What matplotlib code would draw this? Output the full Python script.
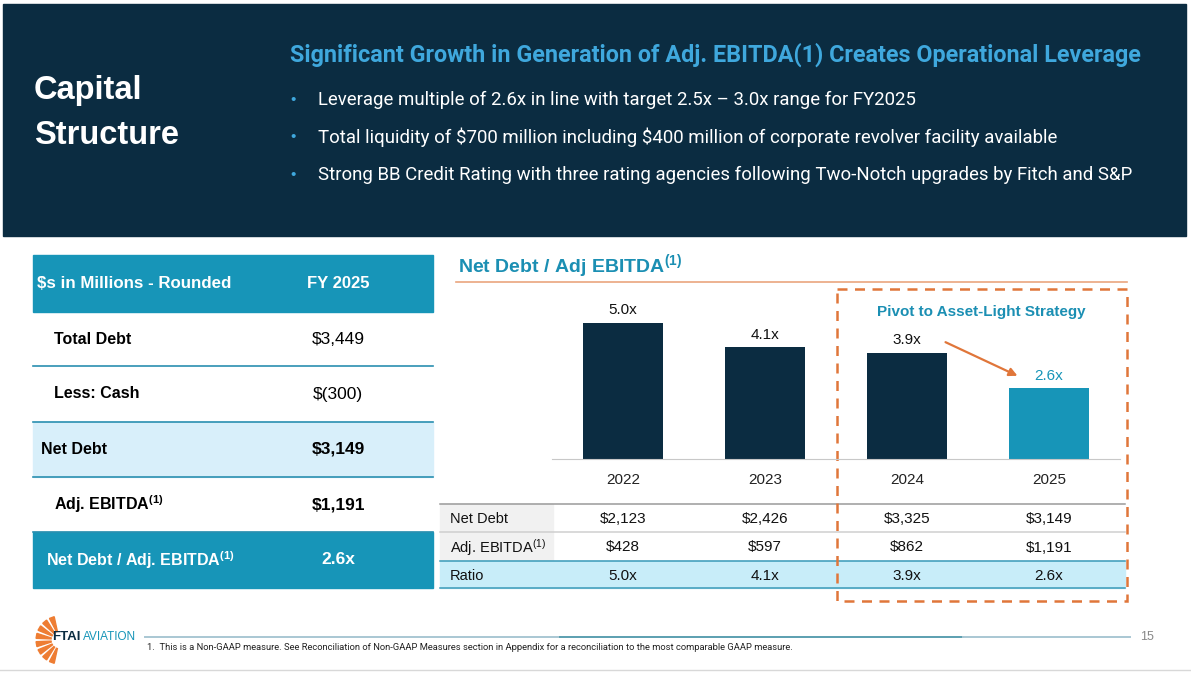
import numpy as np
import matplotlib.pyplot as plt
from matplotlib.patches import Rectangle, Polygon, FancyArrowPatch
from matplotlib import transforms

plt.rcParams['font.family'] = ['Liberation Sans', 'DejaVu Sans']
plt.rcParams['mathtext.default'] = 'regular'

# chart data
years = ['2022', '2023', '2024', '2025']
ratio = [5.0, 4.1, 3.9, 2.6]
net_debt = [2123, 2426, 3325, 3149]
adj_ebitda = [428, 597, 862, 1191]

# summary table
summary_labels = ['Total Debt', 'Less: Cash', 'Net Debt', 'Adj. EBITDA$^{(1)}$',
                  'Net Debt / Adj. EBITDA$^{(1)}$']
summary_values = ['$3,449', '$(300)', '$3,149', '$1,191', '2.6x']

bullets = [
    'Leverage multiple of 2.6x in line with target 2.5x \u2013 3.0x range for FY2025',
    'Total liquidity of $700 million including $400 million of corporate revolver facility available',
    'Strong BB Credit Rating with three rating agencies following Two-Notch upgrades by Fitch and S&P',
]

navy = '#0b2c41'
teal = '#1795b8'
teal_txt = '#1b8fb3'
sub_blue = '#3fa8dd'
orange = '#e0763a'
narrow = ['Roboto', 'DejaVu Sans']

W, H = 1191, 676
fig = plt.figure(figsize=(W / 100, H / 100), dpi=100, facecolor='white')

# overlay axes in pixel units
ax0 = fig.add_axes([0, 0, 1, 1])
ax0.set_xlim(0, W)
ax0.set_ylim(H, 0)
ax0.axis('off')

# header band
ax0.add_patch(Rectangle((3, 4), 1183, 232, color=navy, zorder=0))
ax0.text(34, 91, 'Capital', color='white', fontsize=23.5, fontweight='bold', va='center')
ax0.text(34, 135, 'Structure', color='white', fontsize=23.5, fontweight='bold', va='center')
ax0.text(290, 55, 'Significant Growth in Generation of Adj. EBITDA(1) Creates Operational Leverage',
         color=sub_blue, fontsize=16.8, fontweight='bold', va='center', family=narrow)
for i, b in enumerate(bullets):
    y = 100 + i * 37.5
    ax0.text(290, y, '\u2022', color=sub_blue, fontsize=11, va='center')
    ax0.text(318, y, b, color='white', fontsize=13.4, va='center', family=narrow, parse_math=False)

# left summary table
tx0, tx1 = 33, 433
ax0.add_patch(Rectangle((tx0, 255), tx1 - tx0, 57, color=teal, zorder=1))
ax0.text(37, 284, '$s in Millions - Rounded', color='white', fontsize=12.2, fontweight='bold', va='center')
ax0.text(338, 284, 'FY 2025', color='white', fontsize=12, fontweight='bold', va='center', ha='center')
row_tops = [312, 366, 422, 477, 532]
row_h = [54, 56, 55, 55, 56]
for i, (lab, val) in enumerate(zip(summary_labels, summary_values)):
    top = row_tops[i]
    yc = top + row_h[i] / 2
    color = 'black'
    weight = 'bold' if i >= 2 else 'normal'
    lx = 54
    if i == 2:
        ax0.add_patch(Rectangle((tx0, top), tx1 - tx0, row_h[i], color='#d8effa', zorder=1))
        lx = 41
    if i == 4:
        ax0.add_patch(Rectangle((tx0, top), tx1 - tx0, row_h[i], color=teal, zorder=1))
        color = 'white'
        lx = 46
    ax0.text(lx, yc, lab, color=color, fontsize=11.5, va='center', fontweight='bold', zorder=3)
    ax0.text(338, yc, val, color=color, fontsize=12.5, va='center', ha='center',
             fontweight=weight, zorder=3)
    if i < 4:
        ax0.plot([tx0, tx1], [top + row_h[i]] * 2, color='#2a8fb0', lw=1.2, zorder=2)

# chart title
ax0.text(458, 266, 'Net Debt / Adj EBITDA$^{(1)}$', color=teal_txt, fontsize=14,
         fontweight='bold', va='center')
ax0.plot([456, 1127], [281.5, 281.5], color='#eaa57e', lw=1.2)

# bar chart
axb = fig.add_axes([552 / W, 1 - 459 / H, (1120 - 552) / W, (459 - 290) / H])
x = np.arange(len(years))
colors = [navy, navy, navy, teal]
axb.bar(x, ratio, width=0.563, color=colors)
axb.set_xlim(-0.5, 3.5)
axb.set_ylim(0, 6.21)
for xi, v, c in zip(x, ratio, colors):
    axb.annotate(f'{v:.1f}x', (xi, v), xytext=(0, 4), textcoords='offset points',
                 ha='center', va='bottom', fontsize=11,
                 color=teal if c == teal else '#111111')
axb.set_xticks(x)
axb.set_xticklabels(years, fontsize=11, color='#222222')
axb.tick_params(axis='x', length=0, pad=10)
axb.set_yticks([])
for s in ['top', 'left', 'right']:
    axb.spines[s].set_visible(False)
axb.spines['bottom'].set_color('#c8c8c8')
axb.patch.set_alpha(0)

# pivot box and arrow
ax0.add_patch(Rectangle((837, 289), 290, 312, fill=False, edgecolor=orange, lw=1.8,
                        linestyle=(0, (4, 3)), zorder=5))
ax0.text(981, 312, 'Pivot to Asset-Light Strategy', color=teal_txt, fontsize=11,
         fontweight='bold', ha='center', va='center')
ax0.add_patch(FancyArrowPatch((943, 341), (1020, 377), arrowstyle='-|>', mutation_scale=12,
                              color=orange, lw=1.6, zorder=6))

# bottom data table
blend = transforms.blended_transform_factory(axb.transData, ax0.transData)
bx0, bx1 = 440, 1125
ax0.add_patch(Rectangle((bx0, 504), 553 - bx0, 56, color='#f1f1f1', zorder=1))
ax0.add_patch(Rectangle((bx0, 561), bx1 - bx0, 27, color='#c8edf9', zorder=1))
for yl, lc in [(504, '#9a9a9a'), (532, '#cfcfcf'), (560.5, '#3a9ab8'), (588, '#3a9ab8')]:
    ax0.plot([bx0, bx1], [yl, yl], color=lc, lw=1.1, zorder=2)
row_names = ['Net Debt', 'Adj. EBITDA$^{(1)}$', 'Ratio']
row_vals = [[f'${v:,}' for v in net_debt], [f'${v:,}' for v in adj_ebitda],
            [f'{v:.1f}x' for v in ratio]]
for j, (name, vals) in enumerate(zip(row_names, row_vals)):
    yc = 519 + j * 28.5
    ax0.text(450, yc, name, fontsize=10.5, va='center', color='#111111', zorder=3)
    for xi, s in zip(x, vals):
        ax0.text(xi, yc, s, transform=blend, fontsize=11, ha='center', va='center',
                 color='#111111', zorder=3)

# footer logo
for ang in np.linspace(110, 250, 8):
    a = np.deg2rad(ang)
    d = np.deg2rad(6)
    r0, r1 = 9, 24
    cx, cy = 60, 640
    pts = [(cx + r0 * np.cos(a - d / 2), cy - r0 * np.sin(a - d / 2)),
           (cx + r1 * np.cos(a - d), cy - r1 * np.sin(a - d)),
           (cx + r1 * np.cos(a + d), cy - r1 * np.sin(a + d)),
           (cx + r0 * np.cos(a + d / 2), cy - r0 * np.sin(a + d / 2))]
    ax0.add_patch(Polygon(pts, closed=True, color='#ee7d33', zorder=2))
ax0.text(52, 637, 'FTAI', color=navy, fontsize=9.5, fontweight='bold', va='center', zorder=3)
ax0.text(83, 637, 'AVIATION', color=teal, fontsize=8.5, va='center', zorder=3)
ax0.plot([145, 560], [637, 637], color='#a9c7d3', lw=1.4)
ax0.plot([560, 963], [637, 637], color='#5b9fb0', lw=1.4)
ax0.plot([963, 1130], [637, 637], color='#a9c7d3', lw=1.4)
ax0.text(1140, 637, '15', color='#888888', fontsize=9, va='center')
ax0.text(147, 648, '1.  This is a Non-GAAP measure. See Reconciliation of Non-GAAP Measures section '
         'in Appendix for a reconciliation to the most comparable GAAP measure.',
         fontsize=6.75, va='center', color='#222222', family=narrow)
ax0.plot([0, W], [670, 670], color='#d8d8d8', lw=1)

fig.savefig('out.png', dpi=100, facecolor='white')
